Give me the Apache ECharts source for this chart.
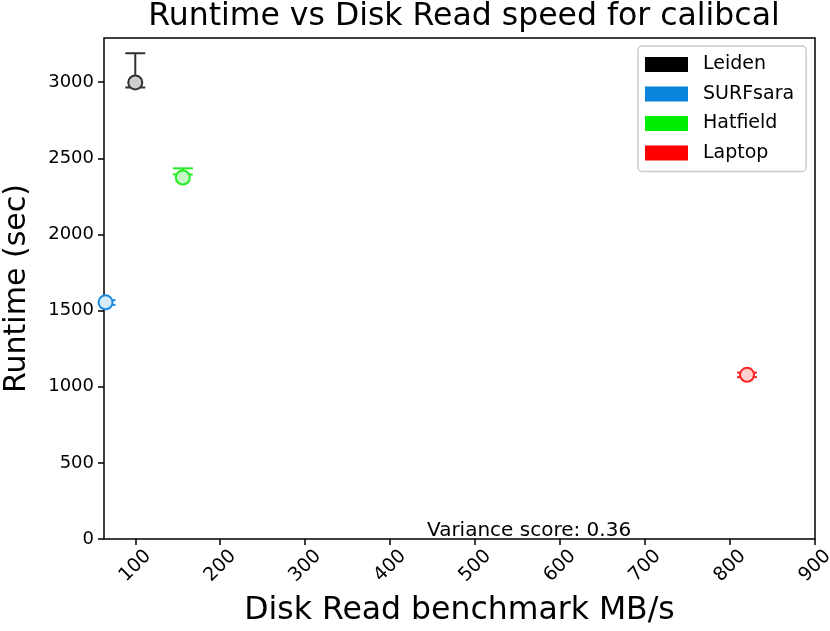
<!DOCTYPE html>
<html>
<head>
<meta charset="utf-8">
<script src="https://cdn.jsdelivr.net/npm/echarts@6/dist/echarts.min.js"></script>
<style>html,body{margin:0;padding:0;background:#fff}#c{width:830px;height:631px}</style>
</head>
<body>
<div id="c"></div>
<script>
// ---- data ----
const sites = ['Leiden', 'SURFsara', 'Hatfield', 'Laptop'];
const diskRead = [100, 65, 156, 820];
const runtime = [2998, 1554, 2374, 1078];
const errLow = [2965, 1538, 2394, 1063];
const errHigh = [3190, 1568, 2434, 1093];
const xTicks = [100, 200, 300, 400, 500, 600, 700, 800, 900];
const yTicks = [0, 500, 1000, 1500, 2000, 2500, 3000];
const varianceText = 'Variance score: 0.36';

// ---- styles ----
const legendColors = ['#000000', '#0a84dc', '#00ee00', '#ff0000'];
const edgeColors = ['#333333', '#1a8ae0', '#22ee22', '#ff2222'];
const fillColors = ['#cfcfcf', '#d6ebfa', '#c8f8c8', '#ffd0d0'];
const FONT = 'DejaVu Sans';

const series = [];
sites.forEach((s, i) => {
  series.push({
    name: s,
    type: 'custom',
    clip: true,
    z: 2,
    data: [[diskRead[i], errLow[i], errHigh[i]]],
    renderItem: function (params, api) {
      const lo = api.coord([api.value(0), api.value(1)]);
      const hi = api.coord([api.value(0), api.value(2)]);
      const cw = 10;
      const st = { stroke: edgeColors[i], lineWidth: 2 };
      return {
        type: 'group',
        children: [
          { type: 'line', shape: { x1: lo[0], y1: lo[1], x2: hi[0], y2: hi[1] }, style: st },
          { type: 'line', shape: { x1: lo[0] - cw, y1: lo[1], x2: lo[0] + cw, y2: lo[1] }, style: st },
          { type: 'line', shape: { x1: hi[0] - cw, y1: hi[1], x2: hi[0] + cw, y2: hi[1] }, style: st }
        ]
      };
    },
    itemStyle: { color: legendColors[i] }
  });
  series.push({
    name: s,
    type: 'scatter',
    clip: true,
    z: 3,
    symbol: 'circle',
    symbolSize: 14,
    data: [[diskRead[i], runtime[i]]],
    itemStyle: { color: fillColors[i], borderColor: edgeColors[i], borderWidth: 2, opacity: 1 }
  });
});

const chart = echarts.init(document.getElementById('c'), null, { renderer: 'canvas' });
chart.setOption({
  animation: false,
  backgroundColor: '#ffffff',
  textStyle: { fontFamily: FONT },
  title: {
    text: 'Runtime vs Disk Read speed for calibcal',
    left: 459, textAlign: 'center', top: -4,
    textStyle: { fontFamily: FONT, fontSize: 31.5, fontWeight: 'normal', color: '#000' }
  },
  grid: {
    left: 104, right: 15, top: 38, bottom: 92,
    outerBoundsMode: 'none', containLabel: false,
    show: true, borderColor: '#000', borderWidth: 1.5, backgroundColor: 'transparent'
  },
  legend: {
    orient: 'vertical',
    left: 638, top: 46,
    padding: [9, 12, 9, 7],
    itemWidth: 43, itemHeight: 15, itemGap: 10.5,
    borderColor: '#cccccc', borderWidth: 1.5, borderRadius: 4,
    backgroundColor: '#fff',
    textStyle: { fontFamily: FONT, fontSize: 19, color: '#000', padding: [0, 0, 0, 10] },
    data: sites.map((s, i) => ({ name: s, icon: 'rect', itemStyle: { color: legendColors[i], borderWidth: 0 } }))
  },
  xAxis: {
    type: 'value', min: 63.2, max: 900,
    axisLine: { show: false },
    splitLine: { show: false },
    axisTick: { show: true, customValues: xTicks, length: 6, lineStyle: { color: '#000', width: 1.5 } },
    axisLabel: {
      customValues: xTicks, rotate: 45, align: 'center', verticalAlign: 'middle', margin: 27,
      fontFamily: FONT, fontSize: 19, color: '#000', formatter: v => String(v)
    },
    name: 'Disk Read benchmark MB/s', nameLocation: 'middle', nameGap: 56,
    nameTextStyle: { fontFamily: FONT, fontSize: 31.5, color: '#000' }
  },
  yAxis: {
    type: 'value', min: 0, max: 3290,
    axisLine: { show: false },
    splitLine: { show: false },
    axisTick: { show: true, customValues: yTicks, length: 6, lineStyle: { color: '#000', width: 1.5 } },
    axisLabel: { customValues: yTicks, margin: 10, fontFamily: FONT, fontSize: 18, color: '#000', formatter: v => String(v) },
    name: 'Runtime (sec)', nameLocation: 'middle', nameGap: 72,
    nameTextStyle: { fontFamily: FONT, fontSize: 30, color: '#000' }
  },
  graphic: [{
    type: 'text', left: 427, top: 521, z: 10,
    style: { text: varianceText, fontFamily: FONT, fontSize: 20, fill: '#000' }
  }],
  series: series
});
</script>
</body>
</html>
